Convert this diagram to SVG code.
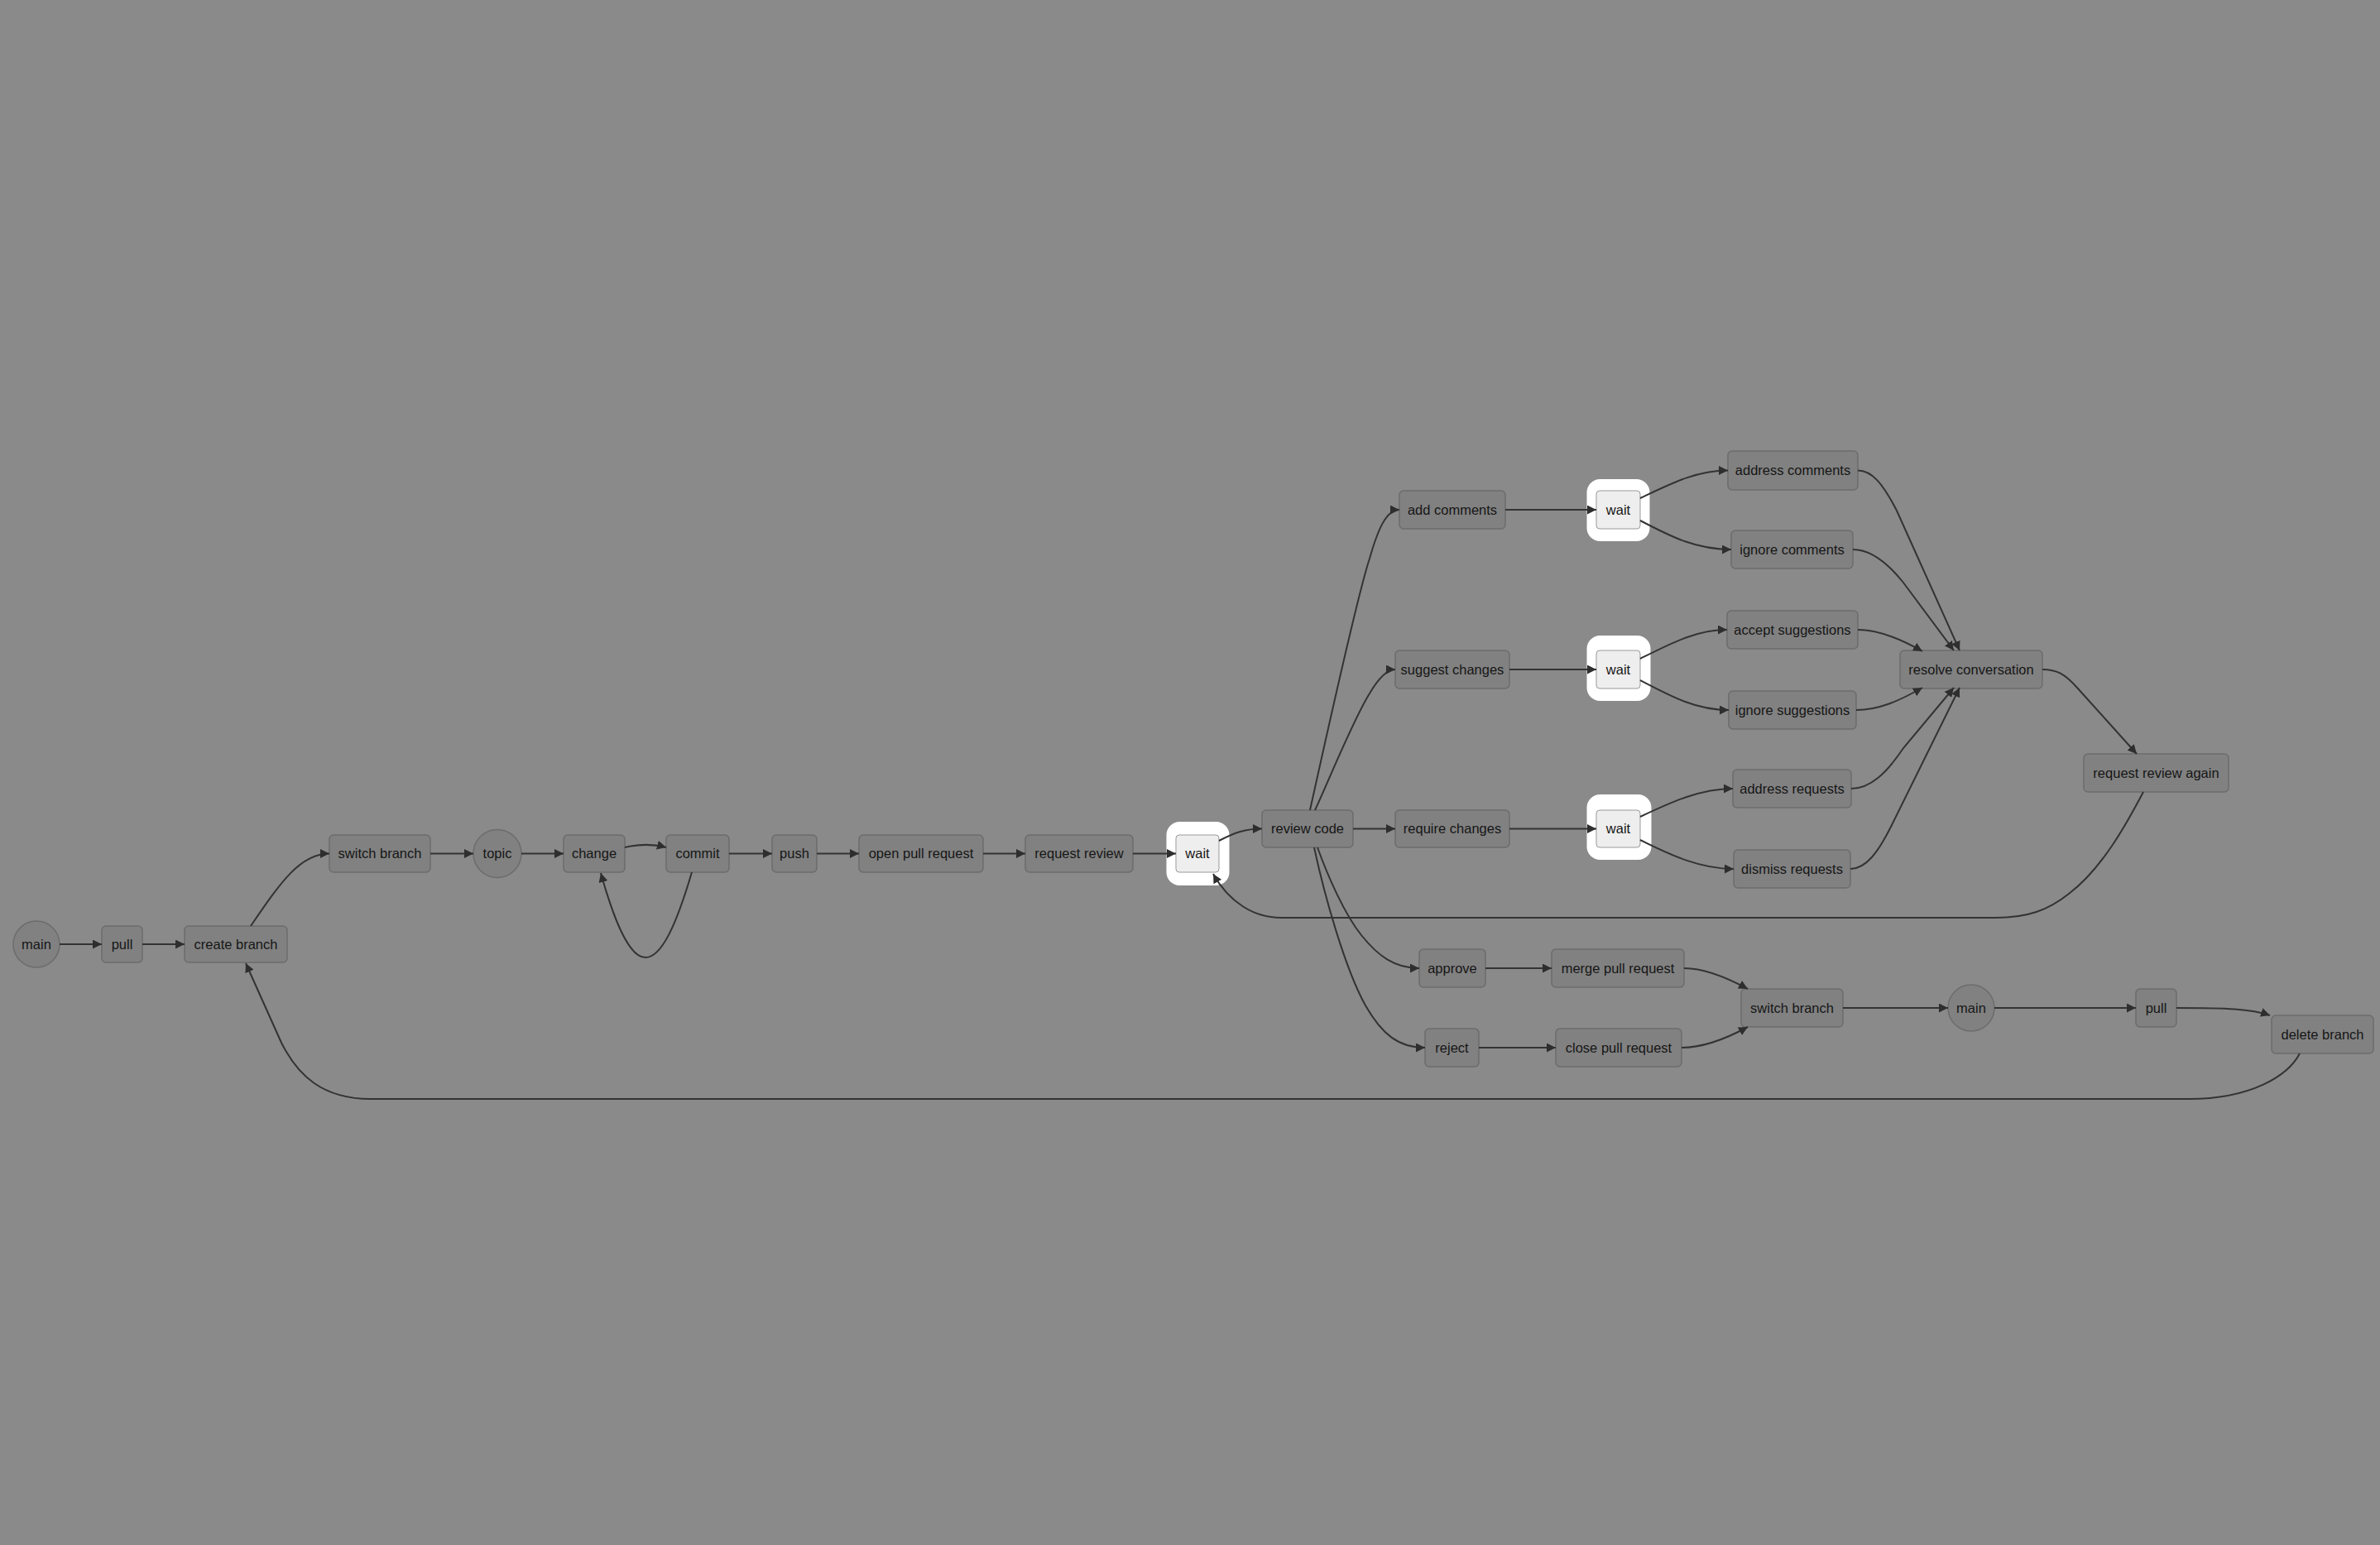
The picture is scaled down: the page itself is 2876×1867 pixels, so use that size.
<svg xmlns="http://www.w3.org/2000/svg" width="2876" height="1867" viewBox="0 0 2876 1867">
<defs>
<marker id="arr" viewBox="0 0 10 10" refX="10" refY="5" markerWidth="11" markerHeight="11" markerUnits="userSpaceOnUse" orient="auto">
<path d="M0,0 L10,5 L0,10 z" fill="#2e2e2e"/>
</marker>
</defs>
<style>
.bg{fill:#8a8a8a}
.n rect,.n circle{fill:#818181;stroke:#6c6c6c;stroke-width:1.5}
.n text{font-family:"Liberation Sans",Arial,sans-serif;font-size:16.5px;fill:#161616;text-anchor:middle}
.w .halo{fill:#ffffff;stroke:none}
.w rect.in{fill:#eeeeee;stroke:#9a9a9a;stroke-width:1}
.e path{fill:none;stroke:#333333;stroke-width:2;marker-end:url(#arr)}
</style>
<rect class="bg" x="0" y="0" width="2876" height="1867"/>

<g id="main1" class="n"><circle cx="44" cy="1141" r="28"/><text x="44" y="1146.5">main</text></g>
<g id="pull1" class="n"><rect x="123" y="1119" width="49" height="44" rx="5"/><text x="147.5" y="1146.5">pull</text></g>
<g id="createBranch" class="n"><rect x="223" y="1119" width="124" height="44" rx="5"/><text x="285" y="1146.5">create branch</text></g>
<g id="switchBranch1" class="n"><rect x="398" y="1009" width="122" height="45" rx="5"/><text x="459" y="1036.5">switch branch</text></g>
<g id="topic" class="n"><circle cx="601" cy="1031.5" r="29"/><text x="601" y="1036.5">topic</text></g>
<g id="change" class="n"><rect x="681" y="1009" width="74" height="45" rx="5"/><text x="718" y="1036.5">change</text></g>
<g id="commit" class="n"><rect x="805" y="1009" width="76" height="45" rx="5"/><text x="843" y="1036.5">commit</text></g>
<g id="push" class="n"><rect x="933" y="1009" width="54" height="45" rx="5"/><text x="960" y="1036.5">push</text></g>
<g id="openPR" class="n"><rect x="1038" y="1009" width="150" height="45" rx="5"/><text x="1113" y="1036.5">open pull request</text></g>
<g id="requestReview" class="n"><rect x="1239" y="1009" width="130" height="45" rx="5"/><text x="1304" y="1036.5">request review</text></g>
<g id="wait0" class="n w"><rect class="halo" x="1409.5" y="993" width="76" height="77" rx="16"/><rect class="in" x="1421" y="1009" width="52" height="45" rx="4"/><text x="1447" y="1036.5">wait</text></g>
<g id="reviewCode" class="n"><rect x="1525" y="979" width="110" height="45" rx="5"/><text x="1580" y="1007">review code</text></g>
<g id="addComments" class="n"><rect x="1691" y="593" width="128" height="46" rx="5"/><text x="1755" y="621.5">add comments</text></g>
<g id="suggestChanges" class="n"><rect x="1686" y="786" width="138" height="46" rx="5"/><text x="1755" y="814.5">suggest changes</text></g>
<g id="requireChanges" class="n"><rect x="1686" y="979" width="138" height="45" rx="5"/><text x="1755" y="1007">require changes</text></g>
<g id="approve" class="n"><rect x="1715" y="1147" width="80" height="46" rx="5"/><text x="1755" y="1175.5">approve</text></g>
<g id="reject" class="n"><rect x="1722" y="1243" width="65" height="46" rx="5"/><text x="1754.5" y="1271.5">reject</text></g>
<g id="wait1" class="n w"><rect class="halo" x="1917.5" y="579" width="76" height="75" rx="16"/><rect class="in" x="1929" y="593" width="53" height="46" rx="4"/><text x="1955.5" y="621.5">wait</text></g>
<g id="wait2" class="n w"><rect class="halo" x="1917.5" y="768" width="77" height="79" rx="16"/><rect class="in" x="1929" y="786" width="53" height="46" rx="4"/><text x="1955.5" y="814.5">wait</text></g>
<g id="wait3" class="n w"><rect class="halo" x="1917.5" y="960" width="78" height="79" rx="16"/><rect class="in" x="1929" y="979" width="53" height="45" rx="4"/><text x="1955.5" y="1007">wait</text></g>
<g id="mergePR" class="n"><rect x="1875" y="1147" width="160" height="46" rx="5"/><text x="1955" y="1175.5">merge pull request</text></g>
<g id="closePR" class="n"><rect x="1880" y="1243" width="152" height="46" rx="5"/><text x="1956" y="1271.5">close pull request</text></g>
<g id="addressComments" class="n"><rect x="2088" y="545" width="157" height="47" rx="5"/><text x="2166.5" y="574">address comments</text></g>
<g id="ignoreComments" class="n"><rect x="2092" y="641" width="147" height="46" rx="5"/><text x="2165.5" y="669.5">ignore comments</text></g>
<g id="acceptSuggestions" class="n"><rect x="2087" y="738" width="158" height="46" rx="5"/><text x="2166" y="766.5">accept suggestions</text></g>
<g id="ignoreSuggestions" class="n"><rect x="2089" y="835" width="154" height="46" rx="5"/><text x="2166" y="863.5">ignore suggestions</text></g>
<g id="addressRequests" class="n"><rect x="2094" y="930" width="143" height="46" rx="5"/><text x="2165.5" y="958.5">address requests</text></g>
<g id="dismissRequests" class="n"><rect x="2095" y="1027" width="141" height="46" rx="5"/><text x="2165.5" y="1055.5">dismiss requests</text></g>
<g id="switchBranch2" class="n"><rect x="2104" y="1195" width="123" height="46" rx="5"/><text x="2165.5" y="1223.5">switch branch</text></g>
<g id="resolveConversation" class="n"><rect x="2296" y="786" width="172" height="46" rx="5"/><text x="2382" y="814.5">resolve conversation</text></g>
<g id="main2" class="n"><circle cx="2382" cy="1218" r="28"/><text x="2382" y="1223.5">main</text></g>
<g id="requestReviewAgain" class="n"><rect x="2518" y="911" width="175" height="46" rx="5"/><text x="2605.5" y="939.5">request review again</text></g>
<g id="pull2" class="n"><rect x="2581" y="1195" width="49" height="46" rx="5"/><text x="2605.5" y="1223.5">pull</text></g>
<g id="deleteBranch" class="n"><rect x="2745" y="1227" width="123" height="46" rx="5"/><text x="2806.5" y="1255.5">delete branch</text></g>

<g id="connectors" class="e">
<path d="M72,1141 L123,1141"/>
<path d="M172,1141 L223,1141"/>
<path d="M303,1119 C338,1068 362,1031.5 398,1031.5"/>
<path d="M520,1031.5 L572,1031.5"/>
<path d="M630,1031.5 L681,1031.5"/>
<path d="M755,1024 C772,1020 790,1020 805,1024"/>
<path d="M836,1054 C818,1115 800,1157 780,1157 C760,1157 742,1112 726,1055"/>
<path d="M881,1031.5 L933,1031.5"/>
<path d="M987,1031.5 L1038,1031.5"/>
<path d="M1188,1031.5 L1239,1031.5"/>
<path d="M1369,1031.5 L1421,1031.5"/>
<path d="M1473,1016 C1492,1006 1505,1001.5 1525,1001.5"/>
<path d="M1583,979 C1605,880 1640,720 1655,675 C1665,640 1675,616 1691,616"/>
<path d="M1589,979 C1605,945 1635,870 1655,838 C1665,821 1675,809 1686,809"/>
<path d="M1635,1001.5 L1686,1001.5"/>
<path d="M1592,1024 C1605,1060 1625,1105 1645,1130 C1665,1155 1685,1170 1715,1170"/>
<path d="M1588,1024 C1600,1080 1625,1170 1650,1215 C1670,1250 1690,1266 1722,1266"/>
<path d="M1819,616 L1929,616"/>
<path d="M1824,809 L1929,809"/>
<path d="M1824,1001.5 L1929,1001.5"/>
<path d="M1795,1170 L1875,1170"/>
<path d="M1787,1266 L1880,1266"/>
<path d="M1982,602 C2020,584 2050,568.5 2088,568.5"/>
<path d="M1982,629 C2020,649 2050,664 2092,664"/>
<path d="M1982,796 C2020,777 2050,761 2087,761"/>
<path d="M1982,822 C2020,842 2050,858 2089,858"/>
<path d="M1982,987 C2020,969 2055,953 2094,953"/>
<path d="M1982,1015 C2020,1034 2055,1050 2095,1050"/>
<path d="M2035,1170 C2060,1170 2088,1182 2112,1195"/>
<path d="M2032,1266 C2060,1266 2088,1254 2112,1241"/>
<path d="M2245,568.5 C2262,568.5 2275,584 2292,617 L2368,786"/>
<path d="M2239,664 C2260,664 2280,679 2300,704 L2361,786"/>
<path d="M2245,761 C2270,761 2295,771 2323,787"/>
<path d="M2243,858 C2270,858 2295,847 2323,831"/>
<path d="M2237,953 C2260,953 2280,934 2300,904 L2361,831"/>
<path d="M2236,1050 C2255,1050 2270,1029 2285,999 L2368,831"/>
<path d="M2468,809 C2485,809 2495,814 2510,831 L2582,911"/>
<path d="M2590,957 C2570,995 2540,1050 2500,1080 C2475,1100 2450,1109 2411,1109 L1548,1109 C1515,1109 1485,1090 1466,1056"/>
<path d="M2227,1218 L2354,1218"/>
<path d="M2410,1218 L2581,1218"/>
<path d="M2630,1218 C2690,1218 2720,1219 2743,1227"/>
<path d="M2779,1273 C2765,1300 2720,1328 2645,1328 L448,1328 C390,1328 360,1300 340,1260 L297,1164"/>
</g>
</svg>
